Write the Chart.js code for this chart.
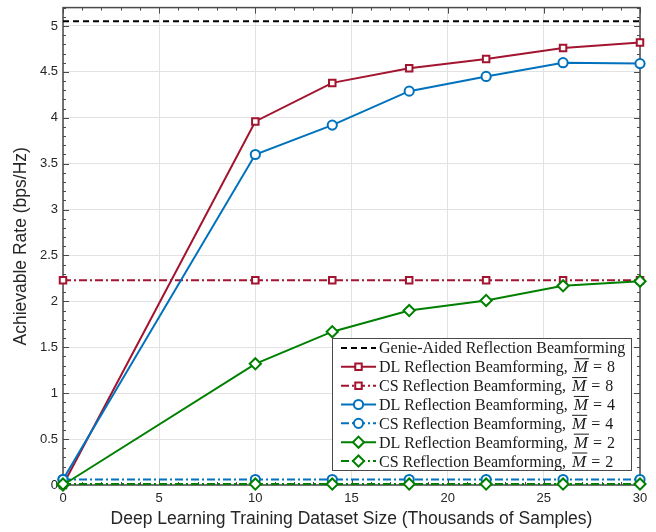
<!DOCTYPE html>
<html>
<head>
<meta charset="utf-8">
<script src="https://cdn.jsdelivr.net/npm/chart.js@4.4.0/dist/chart.umd.min.js"></script>
<style>
  html, body { margin: 0; padding: 0; background: #fff; }
  #wrap { width: 656px; height: 532px; }
</style>
</head>
<body>
<div id="wrap"><canvas id="rate-chart" width="656" height="532"></canvas></div>
<script>
// ── data ─────────────────────────────────────────────────────────────
const samples  = [0, 10, 14, 18, 22, 26, 30];          // thousands of samples
const genie    = [5.05, 5.05, 5.05, 5.05, 5.05, 5.05, 5.05];
const dl8      = [0.00, 3.96, 4.38, 4.54, 4.64, 4.76, 4.82];
const cs8      = [2.23, 2.23, 2.23, 2.23, 2.23, 2.23, 2.23];
const dl4      = [0.06, 3.60, 3.92, 4.29, 4.45, 4.60, 4.59];
const cs4      = [0.06, 0.06, 0.06, 0.06, 0.06, 0.06, 0.06];
const dl2      = [0.00, 1.32, 1.67, 1.90, 2.01, 2.17, 2.22];
const cs2      = [0.01, 0.01, 0.01, 0.01, 0.01, 0.01, 0.01];
const xTicks   = [0, 5, 10, 15, 20, 25, 30];
const yTicks   = [0, 0.5, 1, 1.5, 2, 2.5, 3, 3.5, 4, 4.5, 5];
const labels   = ['Genie-Aided Reflection Beamforming',
                  'DL Reflection Beamforming, ', 'CS Reflection Beamforming, ',
                  'DL Reflection Beamforming, ', 'CS Reflection Beamforming, ',
                  'DL Reflection Beamforming, ', 'CS Reflection Beamforming, '];
const mValues  = [null, 8, 8, 4, 4, 2, 2];

const RED = '#A2142F', BLUE = '#0072BD', GREEN = '#008000';
const DASHDOT = [8, 3, 2, 3];
const pts = vals => samples.map((x, i) => ({ x, y: vals[i] }));

const mk = (label, vals, color, dash, style, radius, order) => ({
  label, data: pts(vals), borderColor: color, backgroundColor: color,
  borderWidth: 2, borderDash: dash, pointStyle: style,
  pointRadius: style ? radius : 0, pointHoverRadius: style ? radius : 0,
  pointBorderWidth: 2, pointBackgroundColor: '#fff', pointBorderColor: color,
  tension: 0, fill: false, clip: false, order
});

const datasets = [
  mk(labels[0], genie, '#000', [6, 4], false, 0, 7),
  mk(labels[1], dl8, RED,   [],      'rect',    4.6, 6),
  mk(labels[2], cs8, RED,   DASHDOT, 'rect',    4.6, 5),
  mk(labels[3], dl4, BLUE,  [],      'circle',  4.6, 4),
  mk(labels[4], cs4, BLUE,  DASHDOT, 'circle',  4.6, 3),
  mk(labels[5], dl2, GREEN, [],      'rectRot', 5.6, 2),
  mk(labels[6], cs2, GREEN, DASHDOT, 'rectRot', 5.6, 1)
];

// ── 外框與內向刻度 (MATLAB 風格) ─────────────────────────────────────
const axisFrame = {
  id: 'axisFrame',
  beforeDatasetsDraw(chart) {
    const { ctx, chartArea: a, scales: { x, y } } = chart;
    ctx.save();
    ctx.strokeStyle = '#4a4a4a';
    ctx.lineWidth = 1;
    ctx.beginPath();
    for (let v = 0; v <= 30; v++) {
      const px = Math.round(x.getPixelForValue(v)) + 0.5;
      const len = v % 5 === 0 ? 6 : 3;
      ctx.moveTo(px, a.bottom); ctx.lineTo(px, a.bottom - len);
      ctx.moveTo(px, a.top);    ctx.lineTo(px, a.top + len);
    }
    for (let i = 0; i <= 52; i++) {
      const py = Math.round(y.getPixelForValue(i / 10)) + 0.5;
      const len = i % 5 === 0 ? 6 : 3;
      ctx.moveTo(a.left, py);  ctx.lineTo(a.left + len, py);
      ctx.moveTo(a.right, py); ctx.lineTo(a.right - len, py);
    }
    ctx.stroke();
    ctx.lineWidth = 1.5;
    ctx.strokeRect(a.left, a.top, a.width, a.height);
    ctx.restore();
  }
};

// ── 圖例 (右下框內) ──────────────────────────────────────────────────
function drawMarker(ctx, style, x, y, r) {
  ctx.beginPath();
  if (style === 'rect') {
    const s = r * Math.SQRT1_2;
    ctx.rect(x - s, y - s, 2 * s, 2 * s);
  } else if (style === 'circle') {
    ctx.arc(x, y, r, 0, Math.PI * 2);
  } else if (style === 'rectRot') {
    ctx.moveTo(x - r, y); ctx.lineTo(x, y - r); ctx.lineTo(x + r, y); ctx.lineTo(x, y + r);
    ctx.closePath();
  }
  ctx.fillStyle = '#fff';
  ctx.fill();
  ctx.setLineDash([]);
  ctx.stroke();
}

const boxLegend = {
  id: 'boxLegend',
  afterDraw(chart) {
    const ctx = chart.ctx;
    const L = 332, T = 338, R = 631, B = 470;
    const rowH = (B - T) / 7;
    const fs = 16;
    const serif = '"Liberation Serif", "Times New Roman", serif';
    ctx.save();
    ctx.fillStyle = '#fff';
    ctx.fillRect(L, T, R - L, B - T);
    ctx.strokeStyle = '#4a4a4a';
    ctx.lineWidth = 1;
    ctx.strokeRect(L + 0.5, T + 0.5, R - L, B - T);
    chart.data.datasets.forEach((ds, i) => {
      const cy = T + rowH * (i + 0.5) + 0.5;
      ctx.strokeStyle = ds.borderColor;
      ctx.lineWidth = 2;
      ctx.setLineDash(ds.borderDash);
      ctx.beginPath();
      ctx.moveTo(341, cy); ctx.lineTo(376, cy);
      ctx.stroke();
      if (ds.pointStyle) drawMarker(ctx, ds.pointStyle, 358.5, cy, ds.pointRadius);
      ctx.fillStyle = '#1a1a1a';
      ctx.textBaseline = 'alphabetic';
      const by = cy + fs * 0.34;
      let tx = 379;
      ctx.font = `${fs}px ${serif}`;
      ctx.fillText(labels[i], tx, by);
      if (mValues[i] == null) return;
      tx += ctx.measureText(labels[i]).width + 2;
      ctx.font = `italic 17px ${serif}`;
      ctx.fillText('M', tx, by);
      const mw = ctx.measureText('M').width;
      ctx.strokeStyle = '#1a1a1a';
      ctx.lineWidth = 1;
      ctx.beginPath();
      ctx.moveTo(tx, by - 13.5); ctx.lineTo(tx + mw + 1, by - 13.5);
      ctx.stroke();
      tx += mw + 5;
      ctx.font = `${fs}px ${serif}`;
      ctx.fillText('=', tx, by);
      tx += ctx.measureText('=').width + 5;
      ctx.fillText(String(mValues[i]), tx, by);
    });
    ctx.restore();
  }
};

Chart.defaults.font.family = '"Liberation Sans", Arial, Helvetica, sans-serif';
Chart.defaults.color = '#262626';

new Chart(document.getElementById('rate-chart'), {
  type: 'line',
  data: { datasets },
  plugins: [axisFrame, boxLegend],
  options: {
    responsive: false, animation: false,
    devicePixelRatio: 1,
    layout: { padding: { top: 6, right: 16, left: 0, bottom: 0 } },
    plugins: { legend: { display: false }, tooltip: { enabled: false } },
    scales: {
      x: {
        type: 'linear', min: 0, max: 30,
        afterFit: s => { s.height = 47; s.paddingLeft = 0; s.paddingRight = 0; },
        afterBuildTicks: s => { s.ticks = xTicks.map(v => ({ value: v })); },
        grid: { color: '#e2e2e2', drawTicks: false },
        border: { display: false },
        ticks: { padding: 6, font: { size: 13 }, color: '#262626', callback: v => String(v) },
        title: { display: true, text: 'Deep Learning Training Dataset Size (Thousands of Samples)',
                 font: { size: 17.5 }, color: '#262626', padding: { top: 0, bottom: 2 } }
      },
      y: {
        type: 'linear', min: 0, max: 5.2,
        afterFit: s => { s.width = 63; s.paddingTop = 0; s.paddingBottom = 0; },
        afterBuildTicks: s => { s.ticks = yTicks.map(v => ({ value: v })); },
        grid: { color: '#e2e2e2', drawTicks: false },
        border: { display: false },
        ticks: { padding: 5, font: { size: 13 }, color: '#262626', callback: v => String(v) },
        title: { display: true, text: 'Achievable Rate (bps/Hz)',
                 font: { size: 17.5 }, color: '#262626', padding: { top: 11, bottom: 0 } }
      }
    }
  }
});
</script>
</body>
</html>
